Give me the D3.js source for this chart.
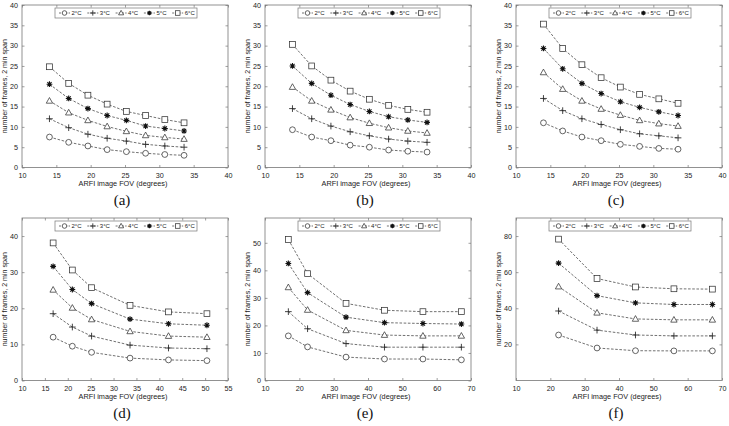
<!DOCTYPE html>
<html>
<head>
<meta charset="utf-8">
<script src="https://cdn.jsdelivr.net/npm/d3@7"></script>
<style>
  html, body { margin: 0; padding: 0; background: #fff; }
  svg { display: block; }
</style>
</head>
<body>
<svg id="chart" width="729" height="426"></svg>
<script>
// ---------- DATA ----------
const seriesNames = ["2°C", "3°C", "4°C", "5°C", "6°C"];
const seriesMarkers = ["circle", "plus", "triangle", "star", "square"];

const fovABC = [14, 16.8, 19.6, 22.4, 25.2, 28, 30.8, 33.6];
const fovD = [16.8, 21, 25.2, 33.6, 42, 50.4];
const fovE = [16.8, 22.4, 33.6, 44.8, 56, 67.2];
const fovF = [22.4, 33.6, 44.8, 56, 67.2];

// rows: 2°C, 3°C, 4°C, 5°C, 6°C
const framesA = [
  [7.5, 6.2, 5.3, 4.4, 3.9, 3.5, 3.2, 3.0],
  [12.0, 9.8, 8.2, 7.2, 6.5, 5.7, 5.3, 5.0],
  [16.4, 13.5, 11.6, 10.1, 8.9, 7.9, 7.4, 7.0],
  [20.5, 17.0, 14.5, 12.8, 11.6, 10.2, 9.6, 9.0],
  [24.8, 20.7, 17.8, 15.6, 13.8, 12.8, 11.8, 11.0]
];
const framesB = [
  [9.3, 7.5, 6.6, 5.5, 5.0, 4.3, 4.0, 3.8],
  [14.5, 12.0, 10.2, 8.8, 7.8, 7.0, 6.5, 6.2],
  [19.8, 16.4, 14.2, 12.3, 10.9, 9.8, 9.0, 8.5],
  [25.0, 20.7, 17.8, 15.5, 13.8, 12.5, 11.7, 11.1],
  [30.3, 25.0, 21.5, 18.8, 16.8, 15.3, 14.3, 13.6]
];
const framesC = [
  [11.0, 9.0, 7.5, 6.6, 5.7, 5.2, 4.7, 4.5],
  [17.0, 14.0, 12.0, 10.6, 9.3, 8.3, 7.8, 7.3],
  [23.4, 19.3, 16.4, 14.4, 12.9, 11.6, 10.8, 10.2],
  [29.3, 24.3, 20.7, 18.2, 16.2, 14.8, 13.7, 12.8],
  [35.3, 29.3, 25.3, 22.1, 19.8, 18.0, 16.9, 15.8]
];
const framesD = [
  [12.0, 9.5, 7.8, 6.2, 5.7, 5.5],
  [18.5, 14.8, 12.3, 9.8, 9.0, 8.8],
  [25.1, 20.1, 16.9, 13.6, 12.3, 12.0],
  [31.6, 25.2, 21.3, 17.0, 15.7, 15.3],
  [38.1, 30.6, 25.7, 20.8, 19.0, 18.5]
];
const framesE = [
  [16.2, 12.2, 8.5, 7.8, 7.8, 7.5],
  [25.0, 18.8, 13.4, 12.1, 12.1, 12.1],
  [33.8, 25.6, 18.2, 16.5, 16.2, 16.2],
  [42.5, 31.9, 23.0, 21.0, 20.7, 20.5],
  [51.2, 38.8, 28.0, 25.5, 25.0, 25.0]
];
const framesF = [
  [25.2, 18.0, 16.5, 16.4, 16.4],
  [38.5, 27.9, 25.2, 24.7, 24.7],
  [52.0, 37.5, 34.1, 33.6, 33.6],
  [65.0, 47.0, 43.0, 42.1, 42.1],
  [78.3, 56.5, 51.8, 50.8, 50.6]
];

const xTicks40 = [10, 15, 20, 25, 30, 35, 40];
const xTicks55 = [10, 15, 20, 25, 30, 35, 40, 45, 50, 55];
const xTicks70 = [10, 20, 30, 40, 50, 60, 70];
const yTicks40 = [0, 5, 10, 15, 20, 25, 30, 35, 40];
const yTicks45 = [0, 10, 20, 30, 40];
const yTicks59 = [0, 10, 20, 30, 40, 50];
const yTicks90 = [20, 40, 60, 80];

const panelLabels = ["(a)", "(b)", "(c)", "(d)", "(e)", "(f)"];
const xTitle = "ARFI image FOV (degrees)";
const yTitle = "number of frames, 2 min span";

// ---------- LAYOUT ----------
const panels = [
  { label: panelLabels[0], fov: fovABC, vals: framesA, xd: [10, 40], xt: xTicks40, yd: [0, 40], yt: yTicks40, left: 22,  top: 5,   w: 206, h: 162.5 },
  { label: panelLabels[1], fov: fovABC, vals: framesB, xd: [10, 40], xt: xTicks40, yd: [0, 40], yt: yTicks40, left: 265, top: 5,   w: 206, h: 162.5 },
  { label: panelLabels[2], fov: fovABC, vals: framesC, xd: [10, 40], xt: xTicks40, yd: [0, 40], yt: yTicks40, left: 516, top: 5,   w: 206, h: 162.5 },
  { label: panelLabels[3], fov: fovD,   vals: framesD, xd: [10, 55], xt: xTicks55, yd: [0, 45], yt: yTicks45, left: 22,  top: 218, w: 206, h: 162.5 },
  { label: panelLabels[4], fov: fovE,   vals: framesE, xd: [10, 70], xt: xTicks70, yd: [0, 59], yt: yTicks59, left: 265, top: 218, w: 206, h: 162.5 },
  { label: panelLabels[5], fov: fovF,   vals: framesF, xd: [10, 70], xt: xTicks70, yd: [0, 90], yt: yTicks90, left: 516, top: 218, w: 206, h: 162.5 }
];

const SANS = "'Liberation Sans', Arial, Helvetica, sans-serif";
const SERIF = "'Liberation Serif', 'Times New Roman', Times, serif";
const svg = d3.select("#chart");
const lineColor = "#333";
const frameColor = "#777";
const textColor = "#222";

function drawMarker(g, type, x, y, s) {
  const r = s / 2;
  if (type === "circle") {
    g.append("circle").attr("cx", x).attr("cy", y).attr("r", r)
      .attr("fill", "#fff").attr("stroke", lineColor).attr("stroke-width", 0.75);
  } else if (type === "square") {
    g.append("rect").attr("x", x - r).attr("y", y - r).attr("width", s).attr("height", s)
      .attr("fill", "#fff").attr("stroke", lineColor).attr("stroke-width", 0.75);
  } else if (type === "triangle") {
    g.append("path")
      .attr("d", `M${x},${y - r * 1.15}L${x + r * 1.1},${y + r * 0.8}L${x - r * 1.1},${y + r * 0.8}Z`)
      .attr("fill", "#fff").attr("stroke", lineColor).attr("stroke-width", 0.75);
  } else if (type === "plus") {
    const a = r * 1.15;
    g.append("path").attr("d", `M${x - a},${y}H${x + a}M${x},${y - a}V${y + a}`)
      .attr("stroke", "#222").attr("stroke-width", 0.85).attr("fill", "none");
  } else if (type === "star") {
    const a = r * 1.0, b = a * 0.72;
    g.append("path")
      .attr("d", `M${x - a},${y}H${x + a}M${x},${y - a}V${y + a}M${x - b},${y - b}L${x + b},${y + b}M${x - b},${y + b}L${x + b},${y - b}`)
      .attr("stroke", "#111").attr("stroke-width", 1.1).attr("fill", "none");
  }
}

panels.forEach(p => {
  const g = svg.append("g").attr("transform", `translate(${p.left},${p.top})`);
  const x = d3.scaleLinear().domain(p.xd).range([0, p.w]);
  const y = d3.scaleLinear().domain(p.yd).range([p.h, 0]);

  // frame
  g.append("rect").attr("x", 0).attr("y", 0).attr("width", p.w).attr("height", p.h)
    .attr("fill", "#fff").attr("stroke", frameColor).attr("stroke-width", 0.8);

  // axes with inward ticks
  const xAxis = g.append("g").attr("transform", `translate(0,${p.h})`)
    .call(d3.axisBottom(x).tickValues(p.xt).tickSize(-2.5).tickPadding(5).tickFormat(d3.format("d")));
  const xAxisTop = g.append("g")
    .call(d3.axisTop(x).tickValues(p.xt).tickSize(-2.5).tickFormat(""));
  const yAxis = g.append("g")
    .call(d3.axisLeft(y).tickValues(p.yt).tickSize(-2.5).tickPadding(4).tickFormat(d3.format("d")));
  const yAxisRight = g.append("g").attr("transform", `translate(${p.w},0)`)
    .call(d3.axisRight(y).tickValues(p.yt).tickSize(-2.5).tickFormat(""));
  [xAxis, xAxisTop, yAxis, yAxisRight].forEach(a => {
    a.select(".domain").remove();
    a.selectAll(".tick line").attr("stroke", frameColor).attr("stroke-width", 0.7);
    a.selectAll("text").style("font-size", "7.2px").style("fill", textColor)
      .style("font-family", SANS);
  });

  // series
  const line = d3.line().x(d => x(d[0])).y(d => y(d[1]));
  p.vals.forEach((vals, si) => {
    const pts = p.fov.map((f, i) => [f, vals[i]]);
    g.append("path").datum(pts).attr("d", line)
      .attr("fill", "none").attr("stroke", lineColor).attr("stroke-width", 0.7)
      .attr("stroke-dasharray", "2.6,1.6");
    const mg = g.append("g");
    pts.forEach(d => drawMarker(mg, seriesMarkers[si], x(d[0]), y(d[1]), 5.8));
  });

  // legend
  const lw = 142, lh = 10;
  const lx = p.w / 2 - lw / 2 + 1, ly = 3;
  const lg = g.append("g").attr("transform", `translate(${lx},${ly})`);
  lg.append("rect").attr("width", lw).attr("height", lh)
    .attr("fill", "#fff").attr("stroke", frameColor).attr("stroke-width", 0.7);
  seriesNames.forEach((name, i) => {
    const ex = 4 + i * 28.3;
    lg.append("line").attr("x1", ex).attr("x2", ex + 11).attr("y1", lh / 2).attr("y2", lh / 2)
      .attr("stroke", lineColor).attr("stroke-width", 0.7).attr("stroke-dasharray", "2,1.2");
    drawMarker(lg, seriesMarkers[i], ex + 5.5, lh / 2, 4.6);
    lg.append("text").attr("x", ex + 12.5).attr("y", lh / 2 + 2.2)
      .style("font-size", "6px").style("font-family", SANS).style("fill", textColor).text(name);
  });

  // axis titles
  g.append("text").attr("x", p.w / 2 - 2).attr("y", p.h + 18.5)
    .attr("text-anchor", "middle")
    .style("font-size", "7.3px").style("font-family", SANS).style("fill", textColor).text(xTitle);
  g.append("text").attr("transform", `translate(${-15},${p.h / 2}) rotate(-90)`)
    .attr("text-anchor", "middle")
    .style("font-size", "7.1px").style("font-family", SANS).style("fill", textColor).text(yTitle);

  // panel label
  g.append("text").attr("x", p.w / 2 - 3).attr("y", p.h + 37.5)
    .attr("text-anchor", "middle")
    .style("font-size", "15px").style("font-family", SERIF).style("fill", "#111")
    .text(p.label);
});
</script>
</body>
</html>
